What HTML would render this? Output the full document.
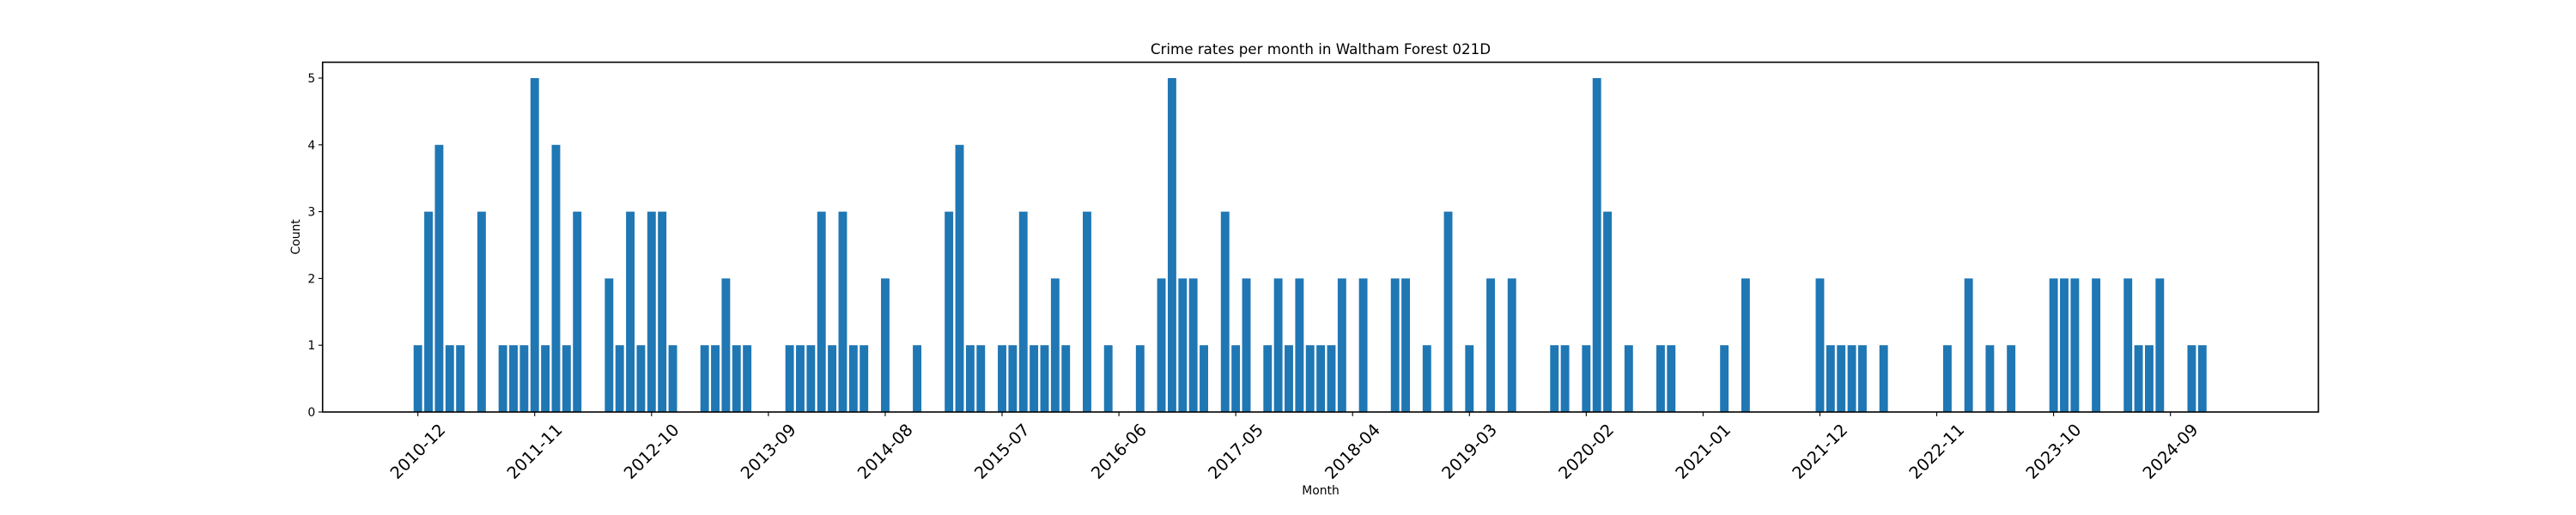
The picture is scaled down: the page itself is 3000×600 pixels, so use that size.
<!DOCTYPE html>
<html><head><meta charset="utf-8"><style>
html,body{margin:0;padding:0;background:#fff}
svg{display:block;font-family:"DejaVu Sans","Liberation Sans",sans-serif}
</style></head><body>
<svg id="chart" width="3000" height="600" viewBox="0 0 3000 600" xmlns="http://www.w3.org/2000/svg">
<rect x="0" y="0" width="3000" height="600" fill="#fff"/>
<text x="1538" y="63" font-size="16.7" text-anchor="middle" fill="#000">Crime rates per month in Waltham Forest 021D</text>
<g id="bars"></g>
<g id="yaxis"></g>
<g id="xaxis"></g>
<rect x="375.7" y="72.5" width="2324.3" height="407.5" fill="none" stroke="#000" stroke-width="1.6"/>
<text x="0" y="0" font-size="13.9" text-anchor="middle" transform="translate(349,276) rotate(-90)" fill="#000">Count</text>
<text x="1538" y="576" font-size="13.9" text-anchor="middle" fill="#000">Month</text>
</svg>
<script>
// month offset from 2010-12 for each non-zero month
const monthIndex = [0,1,2,3,4,6,8,9,10,11,12,13,14,15,18,19,20,21,22,23,24,27,28,29,30,31,35,36,37,38,39,40,41,42,44,47,50,51,52,53,55,56,57,58,59,60,61,63,65,68,70,71,72,73,74,76,77,78,80,81,82,83,84,85,86,87,89,92,93,95,97,99,101,103,107,108,110,111,112,114,117,118,123,125,132,133,134,135,136,138,144,146,148,150,154,155,156,158,161,162,163,164,167,168];
const counts = [1,3,4,1,1,3,1,1,1,5,1,4,1,3,2,1,3,1,3,3,1,1,1,2,1,1,1,1,1,3,1,3,1,1,2,1,3,4,1,1,1,1,3,1,1,2,1,3,1,1,2,5,2,2,1,3,1,2,1,2,1,2,1,1,1,2,2,2,2,1,3,1,2,2,1,1,1,5,3,1,1,1,1,2,2,1,1,1,1,1,1,2,1,1,2,2,2,2,2,1,1,2,1,1];
const tickLabels = ["2010-12","2011-11","2012-10","2013-09","2014-08","2015-07","2016-06","2017-05","2018-04","2019-03","2020-02","2021-01","2021-12","2022-11","2023-10","2024-09"];
const tickMonths = [0,11,22,33,44,55,66,77,88,99,110,121,132,143,154,165];
const yTicks = [0,1,2,3,4,5];

const NS = "http://www.w3.org/2000/svg";
const X0 = 375.7, X1 = 2700, Y0 = 480, Y1 = 72.5;
const xMin = -8.97, xMax = 178.93, yMin = 0, yMax = 5.2375;
const x = m => X0 + (m - xMin) / (xMax - xMin) * (X1 - X0);
const y = v => Y0 - (v - yMin) / (yMax - yMin) * (Y0 - Y1);
const bw = 0.8 * (x(1) - x(0));

function mk(tag, attrs){const e=document.createElementNS(NS,tag);for(const k in attrs)e.setAttribute(k,attrs[k]);return e;}

const bars = document.getElementById('bars');
monthIndex.forEach((m,i)=>{
  const r = mk('rect',{x:x(m)-bw/2,y:y(counts[i]),width:bw,height:y(0)-y(counts[i]),fill:'#1f77b4'});
  
  
  bars.appendChild(r);
});

const ya = document.getElementById('yaxis');
yTicks.forEach(v=>{
  const t = mk('line',{x1:X0-4.9,x2:X0,y1:y(v),y2:y(v),stroke:'#000','stroke-width':1.1});
  
  
  ya.appendChild(t);
  const l = mk('text',{x:X0-8.5,y:y(v)+5,'font-size':13.9,'text-anchor':'end',fill:'#000'});
  
  
  l.textContent = v;
  ya.appendChild(l);
});

const xa = document.getElementById('xaxis');
tickMonths.forEach((m,i)=>{
  const px = x(m);
  const t = mk('line',{x1:px,x2:px,y1:Y0,y2:Y0+4.9,stroke:'#000','stroke-width':1.1});
  
  
  xa.appendChild(t);
  const l = mk('text',{x:px,y:526,'font-size':19.4,'text-anchor':'middle','dominant-baseline':'central',fill:'#000',transform:`rotate(-45 ${px} 526)`});
  
  
  l.textContent = tickLabels[i];
  xa.appendChild(l);
});
</script>
</body></html>
